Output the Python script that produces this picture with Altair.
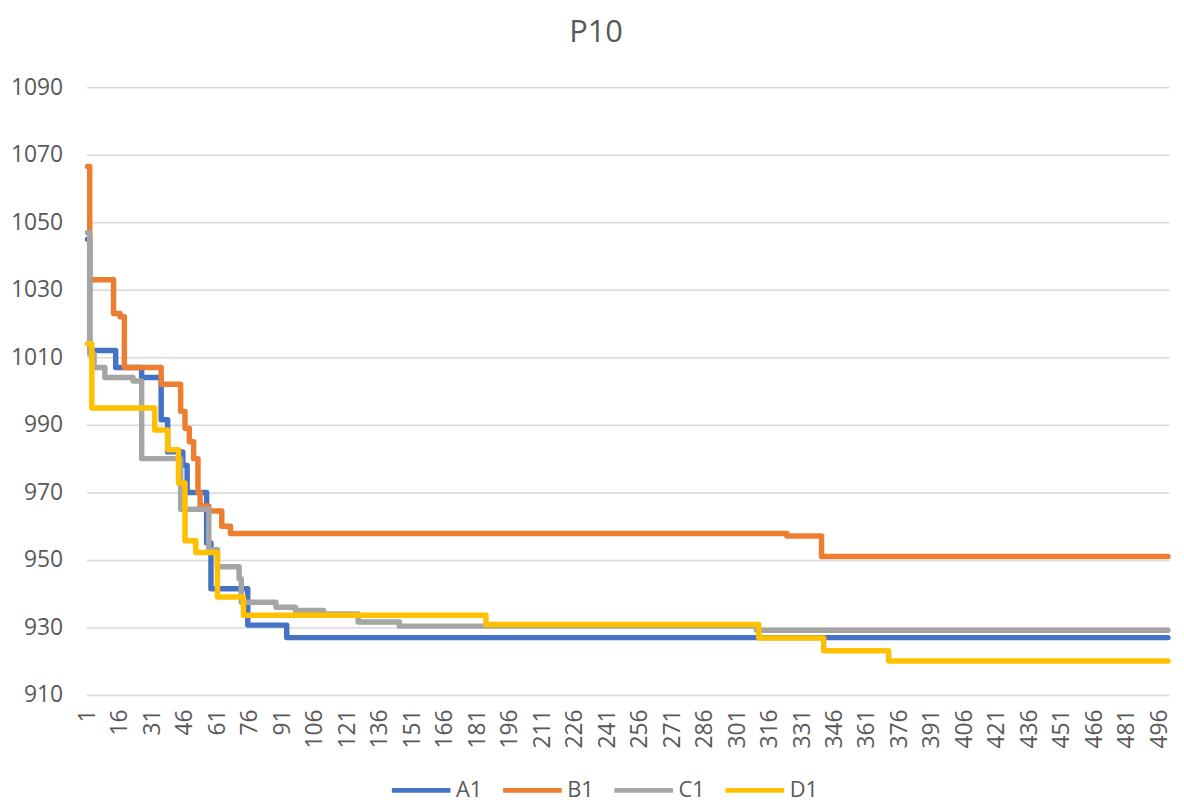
import altair as alt
import pandas as pd

# Step breakpoints (iteration, value) for each series
A1_iter = [1, 2, 14, 26, 35, 38, 45, 47, 56, 58, 75, 93, 500]
A1_val = [1045, 1012, 1007, 1004, 991.5, 982, 978, 970, 955, 941.5, 930.7, 927, 927]

B1_iter = [1, 2, 13, 16, 18, 35, 44, 46, 48, 50, 52, 53, 57, 63, 67, 324, 340, 500]
B1_val = [1066.5, 1033, 1023, 1022, 1007, 1002, 994, 989, 985, 980, 970, 966, 964.5, 960, 957.8, 957.1, 951, 951]

C1_iter = [1, 2, 4, 9, 22, 26, 44, 57, 61, 71, 72, 88, 97, 110, 126, 145, 310, 500]
C1_val = [1047, 1011, 1007, 1004, 1003, 980, 965, 953, 948, 944.4, 937.5, 936, 935, 934, 931.6, 930.4, 929.2, 929.2]

D1_iter = [1, 3, 32, 38, 43, 46, 51, 61, 73, 185, 311, 341, 371, 500]
D1_val = [1014, 995, 988.5, 982.6, 972.8, 955.7, 952.2, 939, 933.6, 930.9, 926.9, 923.1, 920.1, 920.1]

series_names = ["A1", "B1", "C1", "D1"]
series_colors = ["#4472C4", "#ED7D31", "#A5A5A5", "#FFC000"]

x_ticks = [1, 16, 31, 46, 61, 76, 91, 106, 121, 136, 151, 166, 181, 196, 211, 226,
           241, 256, 271, 286, 301, 316, 331, 346, 361, 376, 391, 406, 421, 436,
           451, 466, 481, 496]
y_ticks = [910, 930, 950, 970, 990, 1010, 1030, 1050, 1070, 1090]

rows = []
for name, its, vals in [("A1", A1_iter, A1_val), ("B1", B1_iter, B1_val),
                        ("C1", C1_iter, C1_val), ("D1", D1_iter, D1_val)]:
    for k, (i, v) in enumerate(zip(its, vals)):
        rows.append({"series": name, "iter": i, "value": v, "order": k})
df = pd.DataFrame(rows)

FONT = "Open Sans"
TXT = "#595959"

chart = alt.Chart(df).mark_line(
    interpolate="step-after", strokeWidth=5.5, strokeJoin="round", strokeCap="round"
).encode(
    x=alt.X("iter:Q",
            scale=alt.Scale(domain=[0.5, 500.5], nice=False, zero=False),
            axis=alt.Axis(values=x_ticks, labelAngle=-90, title=None, grid=False,
                          domain=False, ticks=False, labelPadding=14,
                          labelFont=FONT, labelFontSize=23, labelColor=TXT,
                          labelOverlap=False, labelFlush=False)),
    y=alt.Y("value:Q",
            scale=alt.Scale(domain=[910, 1090], nice=False, zero=False),
            axis=alt.Axis(values=y_ticks, format="d", title=None, grid=True,
                          gridColor="#d9d9d9", gridWidth=1.5, domain=False,
                          ticks=False, labelPadding=24,
                          labelFont=FONT, labelFontSize=23, labelColor=TXT)),
    color=alt.Color("series:N",
                    scale=alt.Scale(domain=series_names, range=series_colors),
                    legend=alt.Legend(orient="none", legendX=305, legendY=676,
                                      direction="horizontal", columns=4,
                                      gridAlign="all", title=None,
                                      symbolType="stroke", symbolSize=3481,
                                      symbolStrokeWidth=5, labelOffset=3,
                                      columnPadding=8, labelFont=FONT,
                                      labelFontSize=22, labelColor=TXT)),
    order="order:Q",
).properties(
    width=1090,
    height=612,
    title=alt.Title("P10", font=FONT, fontSize=31, fontWeight="normal",
                    color=TXT, anchor="middle", dx=-32, offset=27),
    autosize=alt.AutoSizeParams(type="none"),
    padding={"left": 79, "top": 77, "right": 7, "bottom": 106},
).configure_view(stroke=None)

chart.save("out.html", embed_options={"renderer": "svg", "actions": False})
